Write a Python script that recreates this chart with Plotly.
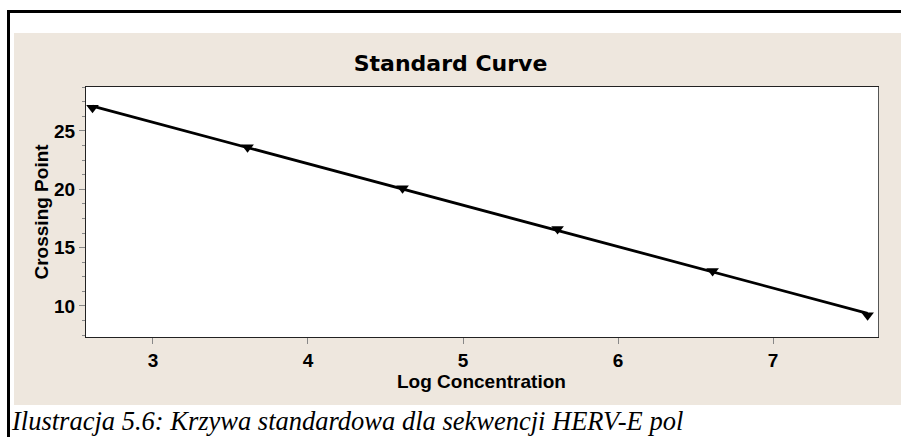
import numpy as np
import plotly.graph_objects as go

# ---- data ----
log_conc = [2.61, 3.61, 4.61, 5.61, 6.61, 7.61]
crossing_point = [27.0, 23.6, 20.1, 16.6, 13.0, 9.2]
x_ticks = [3, 4, 5, 6, 7]
y_ticks = [10, 15, 20, 25]
title_text = "Standard Curve"
x_title = "Log Concentration"
y_title = "Crossing Point"
caption = "Ilustracja 5.6: Krzywa standardowa dla sekwencji HERV-E pol"

# regression line through the standards
slope, intercept = np.polyfit(log_conc, crossing_point, 1)
fit_x = [log_conc[0], log_conc[-1]]
fit_y = [slope * v + intercept for v in fit_x]

W, H = 901, 437
L, R, T, B = 86, 878, 87, 337  # plot area in pixels


def px(x):
    return (x - L) / (R - L)


def py(y):
    return (B - y) / (B - T)


BEIGE = "#EEE7DE"
NOLINE = dict(width=0, color="rgba(0,0,0,0)")

fig = go.Figure()
fig.add_trace(go.Scatter(x=fit_x, y=fit_y, mode="lines",
                         line=dict(color="black", width=2.8),
                         hoverinfo="skip", showlegend=False))
fig.add_trace(go.Scatter(x=log_conc, y=crossing_point, mode="markers",
                         marker=dict(symbol="triangle-down", size=11, color="black"),
                         showlegend=False))

shapes = [
    # white strips around the beige panel (paper background is beige)
    dict(type="rect", xref="paper", yref="paper", layer="below",
         x0=px(0), x1=px(W), y0=py(33), y1=py(0),
         fillcolor="white", line=NOLINE),
    dict(type="rect", xref="paper", yref="paper", layer="below",
         x0=px(0), x1=px(14), y0=py(H), y1=py(0),
         fillcolor="white", line=NOLINE),
    dict(type="rect", xref="paper", yref="paper", layer="below",
         x0=px(0), x1=px(W), y0=py(H), y1=py(405),
         fillcolor="white", line=NOLINE),
    # outer frame: left and top black rules
    dict(type="line", xref="paper", yref="paper",
         x0=px(8.5), x1=px(8.5), y0=py(H), y1=py(10),
         line=dict(color="black", width=3)),
    dict(type="line", xref="paper", yref="paper",
         x0=px(7), x1=px(W), y0=py(11.5), y1=py(11.5),
         line=dict(color="black", width=3)),
    # plot area right shadow
    dict(type="line", xref="paper", yref="paper",
         x0=px(R + 0.5), x1=px(R + 0.5), y0=py(B), y1=py(T),
         line=dict(color="#555555", width=1)),
]

lab_font = dict(family="Liberation Sans", size=19, color="black", weight="bold")

annotations = [
    dict(text=x_title, xref="paper", yref="paper", x=px(481), y=py(381),
         xanchor="center", yanchor="middle", showarrow=False, font=lab_font),
    dict(text=y_title, xref="paper", yref="paper", x=px(41), y=py(211.5),
         xanchor="center", yanchor="middle", textangle=-90, showarrow=False,
         font=lab_font),
    dict(text=caption, xref="paper", yref="paper", x=px(9), y=py(421),
         xanchor="left", yanchor="middle", showarrow=False,
         font=dict(family="Liberation Serif", size=26.5, color="black", style="italic")),
]

fig.update_layout(
    width=W, height=H,
    margin=dict(l=L, r=W - R, t=T, b=H - B, pad=0),
    paper_bgcolor=BEIGE,
    plot_bgcolor="white",
    title=dict(text=title_text, xref="container", yref="container",
               x=0.5, y=1 - 63 / H, xanchor="center", yanchor="middle",
               font=dict(family="DejaVu Sans", size=22, color="black", weight="bold")),
    shapes=shapes,
    annotations=annotations,
    showlegend=False,
)

tick_font = dict(family="Liberation Sans", size=19, color="black", weight="bold")

fig.update_xaxes(range=[2.568, 7.677], tickvals=x_ticks, ticks="outside",
                 ticklen=6, tickcolor="#888888", tickwidth=1,
                 showline=True, linecolor="#222222", linewidth=1, mirror=True,
                 showgrid=False, zeroline=False, tickfont=tick_font)
fig.update_yaxes(range=[7.34, 28.77], tickvals=y_ticks, ticks="outside",
                 ticklen=6, tickcolor="#888888", tickwidth=1,
                 minor=dict(dtick=1.25, tick0=0, ticks="outside", ticklen=3,
                            tickcolor="#888888", showgrid=False),
                 showline=True, linecolor="#222222", linewidth=1, mirror=True,
                 showgrid=False, zeroline=False, tickfont=tick_font)

fig.write_html("out.html")
